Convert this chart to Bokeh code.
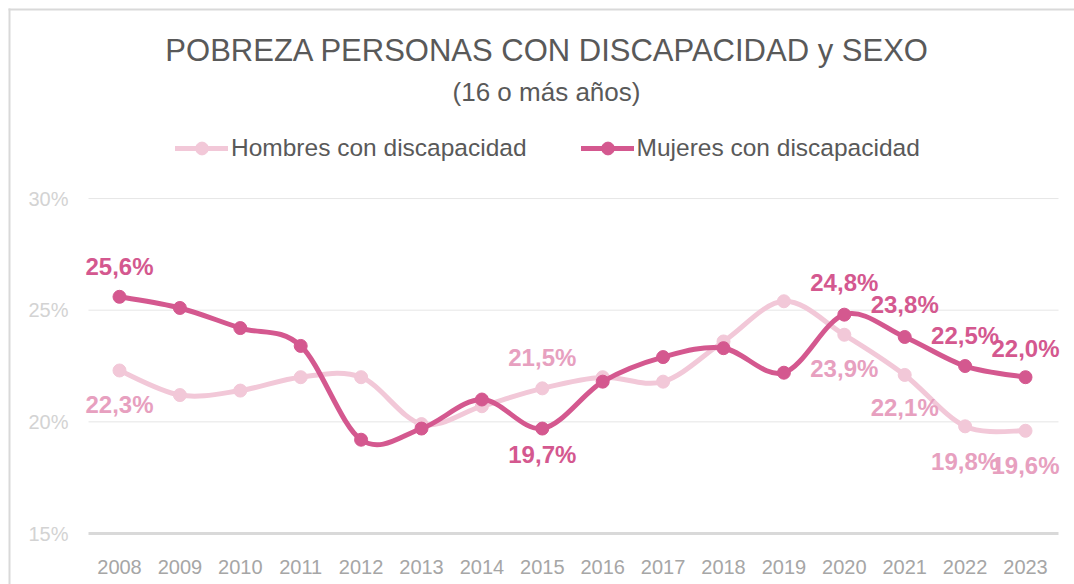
import numpy as np
from bokeh.plotting import figure
from bokeh.models import Label, Legend, LegendItem, BoxAnnotation, ColumnDataSource
from bokeh.core.properties import value
from bokeh.embed import file_html
from bokeh.resources import INLINE

# ---------------- data ----------------
years = [2008, 2009, 2010, 2011, 2012, 2013, 2014, 2015, 2016, 2017, 2018, 2019, 2020, 2021, 2022, 2023]
hombres = [22.3, 21.2, 21.4, 22.0, 22.0, 19.9, 20.7, 21.5, 22.0, 21.8, 23.6, 25.4, 23.9, 22.1, 19.8, 19.6]
mujeres = [25.6, 25.1, 24.2, 23.4, 19.2, 19.7, 21.0, 19.7, 21.8, 22.9, 23.3, 22.2, 24.8, 23.8, 22.5, 22.0]
hombres_label_years = [2008, 2015, 2020, 2021, 2022, 2023]
mujeres_label_years = [2008, 2015, 2020, 2021, 2022, 2023]
y_ticks = [15, 20, 25, 30]
y_tick_labels = ["15%", "20%", "25%", "30%"]
x_tick_labels = [str(y) for y in years]

title_text = "POBREZA PERSONAS CON DISCAPACIDAD y SEXO"
subtitle_text = "(16 o más años)"
name_h = "Hombres con discapacidad"
name_m = "Mujeres con discapacidad"

# ---------------- style ----------------
C_H_LINE = "#F2C8D8"
C_H_TEXT = "#E7A0BF"
C_M = "#D4588F"
FONT = "Liberation Sans"
W, H = 1074, 584
AXIS_PX = 533                # canvas px (from top) of the 15% line
PX_PER_YEAR = 60.4
PX_PER_PCT = 22.33
X_FIRST_PX = 119             # canvas px of first category
GRID_LEFT_PX, GRID_RIGHT_PX = 88, 1058
# label offsets in px (positive = below point)
h_off = {2008: 34, 2015: -31, 2020: 34, 2021: 33, 2022: 35, 2023: 35}
m_off = {2008: -30, 2015: 26, 2020: -32, 2021: -32, 2022: -31, 2023: -29}

def px_to_x(px):
    return years[0] + (px - X_FIRST_PX) / PX_PER_YEAR

x_range = (px_to_x(0), px_to_x(W))
y_range = (y_ticks[0] - (H - AXIS_PX) / PX_PER_PCT, y_ticks[0] + AXIS_PX / PX_PER_PCT)

p = figure(width=W, height=H, output_backend="svg", toolbar_location=None,
           x_range=x_range, y_range=y_range,
           min_border=0, x_axis_type=None, y_axis_type=None)
p.outline_line_color = None
p.background_fill_color = "white"
p.border_fill_color = "white"
p.xgrid.grid_line_color = None
p.ygrid.grid_line_color = None

# grid lines and axis labels
gx0, gx1 = px_to_x(GRID_LEFT_PX), px_to_x(GRID_RIGHT_PX)
p.segment(x0=[gx0] * 3, x1=[gx1] * 3, y0=y_ticks[1:], y1=y_ticks[1:], line_color="#E6E6E6", line_width=1)
p.segment(x0=[gx0], x1=[gx1], y0=y_ticks[:1], y1=y_ticks[:1], line_color="#D9D9D9", line_width=3)
p.text(x=[gx0] * 4, y=y_ticks, text=y_tick_labels, x_offset=-20, text_align="right",
       text_baseline="middle", text_color="#D3D3D3", text_font_size="20px", text_font=value(FONT))
p.text(x=years, y=[y_ticks[0]] * len(years), text=x_tick_labels, y_offset=33, text_align="center",
       text_baseline="middle", text_color="#A6A6A6", text_font_size="20px", text_font=value(FONT))

def bezier_src(xs, ys):
    xs = np.asarray(xs, float); ys = np.asarray(ys, float)
    n = len(xs)
    d = {k: [] for k in ("x0", "y0", "x1", "y1", "cx0", "cy0", "cx1", "cy1")}
    for i in range(n - 1):
        im1 = max(i - 1, 0); ip2 = min(i + 2, n - 1)
        d["x0"].append(xs[i]); d["y0"].append(ys[i]); d["x1"].append(xs[i + 1]); d["y1"].append(ys[i + 1])
        d["cx0"].append(xs[i] + (xs[i + 1] - xs[im1]) / 6); d["cy0"].append(ys[i] + (ys[i + 1] - ys[im1]) / 6)
        d["cx1"].append(xs[i + 1] - (xs[ip2] - xs[i]) / 6); d["cy1"].append(ys[i + 1] - (ys[ip2] - ys[i]) / 6)
    return ColumnDataSource(d)

rh = p.bezier("x0", "y0", "x1", "y1", "cx0", "cy0", "cx1", "cy1", source=bezier_src(years, hombres),
              line_color=C_H_LINE, line_width=5, line_cap="round")
sh = p.scatter(years, hombres, size=13, color=C_H_LINE)
rm = p.bezier("x0", "y0", "x1", "y1", "cx0", "cy0", "cx1", "cy1", source=bezier_src(years, mujeres),
              line_color=C_M, line_width=5, line_cap="round")
sm = p.scatter(years, mujeres, size=13, color=C_M)

def fmt(v):
    return f"{v:.1f}".replace(".", ",") + "%"

for yrs, vals, offs, col in ((hombres_label_years, hombres, h_off, C_H_TEXT),
                             (mujeres_label_years, mujeres, m_off, C_M)):
    ys = [vals[years.index(y)] for y in yrs]
    src = ColumnDataSource(dict(x=yrs, y=ys, t=[fmt(v) for v in ys], o=[offs[y] for y in yrs]))
    p.text("x", "y", text="t", y_offset="o", source=src, text_color=col,
           text_font_size="24px", text_font_style="bold", text_align="center",
           text_baseline="middle", text_font=value(FONT))

# title / subtitle (screen units, from frame bottom-left = canvas bottom-left)
p.add_layout(Label(x=547, y=H - 50, x_units="screen", y_units="screen", text=title_text,
                   text_font=FONT, text_font_size="31px", text_color="#595959",
                   text_align="center", text_baseline="middle"))
p.add_layout(Label(x=546, y=H - 91, x_units="screen", y_units="screen", text=subtitle_text,
                   text_font=FONT, text_font_size="26px", text_color="#595959",
                   text_align="center", text_baseline="middle"))

legend = Legend(items=[LegendItem(label=name_h, renderers=[rh, sh]),
                       LegendItem(label=name_m, renderers=[rm, sm])],
                location=(175, H - 164), orientation="horizontal",
                glyph_width=53, glyph_height=32, label_standoff=3, spacing=54,
                padding=0, margin=0, border_line_color=None, background_fill_alpha=0,
                label_text_font=FONT, label_text_font_size="24.5px", label_text_color="#595959",
                label_height=32)
p.add_layout(legend, "center")

# chart frame border (top and left)
p.add_layout(BoxAnnotation(left=8, right=W, bottom=H - 10, top=H - 8,
                           left_units="screen", right_units="screen", top_units="screen",
                           bottom_units="screen", fill_color="#D9D9D9", fill_alpha=1, line_color=None))
p.add_layout(BoxAnnotation(left=8, right=10, bottom=0, top=H - 8,
                           left_units="screen", right_units="screen", top_units="screen",
                           bottom_units="screen", fill_color="#D9D9D9", fill_alpha=1, line_color=None))

open("out.html", "w").write(file_html(p, INLINE))
